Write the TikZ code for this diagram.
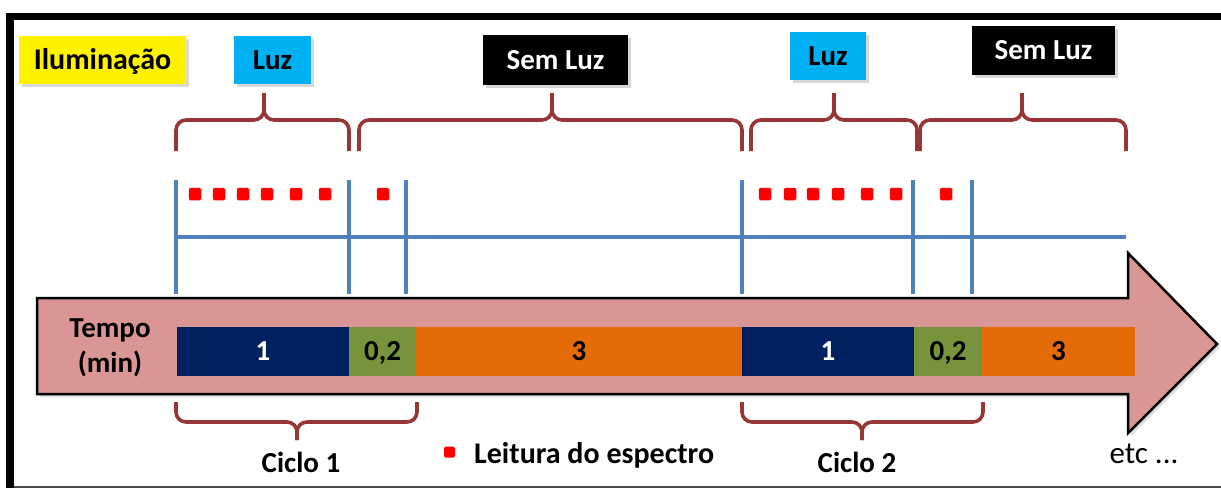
\documentclass[tikz,border=0pt]{standalone}
\usepackage{fontspec}
\setmainfont{Carlito}
\usetikzlibrary{shadows}
\definecolor{brc}{RGB}{150,55,53}
\definecolor{lnblue}{RGB}{79,129,189}
\definecolor{navybar}{RGB}{0,32,96}
\definecolor{olivebar}{RGB}{119,147,60}
\definecolor{orngbar}{RGB}{227,108,9}
\definecolor{pinkarrow}{RGB}{217,150,148}
\definecolor{skyb}{RGB}{0,176,240}
\newcommand{\UpBrace}[3]{%
  \draw[bracestyle] (#1,151) -- (#1,120) -- (#3,120) -- (#3,93);
  \draw[bracestyle] (#2,151) -- (#2,120) -- (#3,120) -- (#3,93);}
\newcommand{\DownBrace}[3]{%
  \draw[bracestyle] (#1,402) -- (#1,422) -- (#3,422) -- (#3,440);
  \draw[bracestyle] (#2,402) -- (#2,422) -- (#3,422) -- (#3,440);}
\begin{document}
\begin{tikzpicture}[x=1pt,y=-1pt,
  every node/.style={font=\fontsize{29}{35}\selectfont\bfseries, inner sep=0pt},
  tx/.style={text height=22pt, text depth=4pt},
  labelbox/.style={rectangle, tx, drop shadow={opacity=.3, shadow xshift=3pt, shadow yshift=-3pt}},
  bar/.style={rectangle, tx, minimum height=49pt},
  vline/.style={draw=lnblue, line width=3.8pt},
  bracestyle/.style={draw=brc, line width=3.6pt, rounded corners=10pt},
  dot/.style={rectangle, fill=red, minimum size=12.5pt, rounded corners=1.5pt},
]
\useasboundingbox (0,0) rectangle (1221,488);
\fill[white] (0,0) rectangle (1221,488);
% frame
\fill[black] (6,13) rectangle (1221,20);
\fill[black] (6,13) rectangle (14,488);
\fill[black!70] (14,486) rectangle (1221,488);

% top labels
\node[labelbox, fill=yellow, minimum width=167pt, minimum height=48pt,
      font=\fontsize{30}{35}\selectfont\bfseries] (ilum) at (102.5,60) {Iluminação};
\node[labelbox, fill=skyb, minimum width=77pt, minimum height=48pt] (luz1) at (272.5,60) {Luz};
\node[labelbox, fill=black, text=white, minimum width=145pt, minimum height=50pt] (sem1) at (555.5,60) {Sem Luz};
\node[labelbox, fill=skyb, minimum width=76pt, minimum height=48pt] (luz2) at (828,56) {Luz};
\node[labelbox, fill=black, text=white, minimum width=143pt, minimum height=49pt] (sem2) at (1043.5,50.5) {Sem Luz};

% top braces
\UpBrace{176}{349}{264}
\UpBrace{359}{742}{552}
\UpBrace{751}{917}{834}
\UpBrace{920}{1126}{1022}

% blue timeline
\draw[vline] (176,237) -- (1126,237);
\foreach \x in {176,349,406,742,913,972}
  \draw[vline] (\x,180) -- (\x,294);

% reading dots
\foreach \x [count=\i] in {195,219,243,267,296,325,383}
  \node[dot] (da\i) at (\x,194) {};
\foreach \x [count=\i] in {765,790,813,838,867,896,946}
  \node[dot] (db\i) at (\x,194) {};

% time arrow
\draw[fill=pinkarrow, line width=2.5pt, line join=miter,
      drop shadow={opacity=.25, shadow xshift=3pt, shadow yshift=-3pt}]
  (37,298) -- (1128,298) -- (1128,253) -- (1217,344) -- (1128,433)
  -- (1128,394) -- (37,394) -- cycle;
\node[align=center] (tempo) at (110,348) {Tempo\\(min)};

% bars
\node[bar, fill=navybar, text=white, minimum width=172pt] (b1) at (263,351.5) {1};
\node[bar, fill=olivebar, minimum width=67pt] (g1) at (382.5,351.5) {0,2};
\node[bar, fill=orngbar, minimum width=326pt] (o1) at (579,351.5) {3};
\node[bar, fill=navybar, text=white, minimum width=172pt] (b2) at (828,351.5) {1};
\node[bar, fill=olivebar, minimum width=68pt] (g2) at (948,351.5) {0,2};
\node[bar, fill=orngbar, minimum width=153pt] (o2) at (1058.5,351.5) {3};

% bottom braces
\DownBrace{176}{417}{297}
\DownBrace{742}{983}{862}

% bottom labels
\node[tx] (c1) at (301,463) {Ciclo 1};
\node[tx] (c2) at (857,463) {Ciclo 2};
\node[tx, font=\fontsize{31}{35}\selectfont] (etc) at (1144,454) {etc ...};
\node[dot, minimum size=11pt] (leg) at (449.5,452) {};
\node[tx, anchor=west, font=\fontsize{30}{35}\selectfont\bfseries] (legt) at (474,454) {Leitura do espectro};
\end{tikzpicture}
\end{document}
